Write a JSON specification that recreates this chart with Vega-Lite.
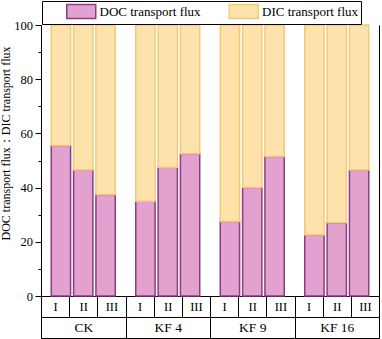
{
  "$schema": "https://vega.github.io/schema/vega-lite/v6.json",
  "width": 338,
  "height": 271,
  "autosize": {"type": "none"},
  "padding": {"left": 41, "top": 25, "right": 3, "bottom": 43},
  "background": "white",
  "config": {
    "font": "Liberation Serif",
    "view": {"stroke": null},
    "axis": {"labelFont": "Liberation Serif", "titleFont": "Liberation Serif", "labelColor": "black", "titleColor": "black", "domainColor": "black", "tickColor": "black", "grid": false, "titleFontWeight": "normal", "domainWidth": 1, "tickWidth": 1},
    "legend": {"labelFont": "Liberation Serif", "labelColor": "black"}
  },
  "data": {"values": [
    {"group": "CK", "sample": "I", "type": "DOC transport flux", "value": 55.5},
    {"group": "CK", "sample": "I", "type": "DIC transport flux", "value": 44.5},
    {"group": "CK", "sample": "II", "type": "DOC transport flux", "value": 46.5},
    {"group": "CK", "sample": "II", "type": "DIC transport flux", "value": 53.5},
    {"group": "CK", "sample": "III", "type": "DOC transport flux", "value": 37.5},
    {"group": "CK", "sample": "III", "type": "DIC transport flux", "value": 62.5},
    {"group": "KF 4", "sample": "I", "type": "DOC transport flux", "value": 35},
    {"group": "KF 4", "sample": "I", "type": "DIC transport flux", "value": 65},
    {"group": "KF 4", "sample": "II", "type": "DOC transport flux", "value": 47.5},
    {"group": "KF 4", "sample": "II", "type": "DIC transport flux", "value": 52.5},
    {"group": "KF 4", "sample": "III", "type": "DOC transport flux", "value": 52.5},
    {"group": "KF 4", "sample": "III", "type": "DIC transport flux", "value": 47.5},
    {"group": "KF 9", "sample": "I", "type": "DOC transport flux", "value": 27.5},
    {"group": "KF 9", "sample": "I", "type": "DIC transport flux", "value": 72.5},
    {"group": "KF 9", "sample": "II", "type": "DOC transport flux", "value": 40},
    {"group": "KF 9", "sample": "II", "type": "DIC transport flux", "value": 60},
    {"group": "KF 9", "sample": "III", "type": "DOC transport flux", "value": 51.5},
    {"group": "KF 9", "sample": "III", "type": "DIC transport flux", "value": 48.5},
    {"group": "KF 16", "sample": "I", "type": "DOC transport flux", "value": 22.5},
    {"group": "KF 16", "sample": "I", "type": "DIC transport flux", "value": 77.5},
    {"group": "KF 16", "sample": "II", "type": "DOC transport flux", "value": 27},
    {"group": "KF 16", "sample": "II", "type": "DIC transport flux", "value": 73},
    {"group": "KF 16", "sample": "III", "type": "DOC transport flux", "value": 46.5},
    {"group": "KF 16", "sample": "III", "type": "DIC transport flux", "value": 53.5}
  ]},
  "resolve": {"scale": {"x": "independent"}, "axis": {"x": "independent", "y": "independent"}},
  "layer": [
    {
      "mark": {"type": "bar", "strokeWidth": 1.5},
      "encoding": {
        "x": {"field": "group", "type": "nominal", "sort": ["CK", "KF 4", "KF 9", "KF 16"],
              "scale": {"paddingInner": 0, "paddingOuter": 0},
              "axis": {"orient": "bottom", "offset": 42, "labels": false, "ticks": false, "title": null}},
        "xOffset": {"field": "sample", "type": "nominal", "sort": ["I", "II", "III"],
                    "scale": {"paddingInner": 0.135, "paddingOuter": 0.46}},
        "y": {"field": "value", "type": "quantitative", "stack": "zero",
              "scale": {"domain": [0, 100]},
              "axis": {"orient": "left", "values": [0, 10, 20, 30, 40, 50, 60, 70, 80, 90, 100],
                       "labelExpr": "datum.value % 20 === 0 ? datum.label : ''",
                       "tickSize": {"condition": {"test": "datum.value % 20 === 0", "value": 6}, "value": 3},
                       "labelPadding": 2.5, "labelFontSize": 12.5,
                       "title": "DOC transport flux：DIC transport flux", "titleFontSize": 12, "titlePadding": 1, "titleY": 118}},
        "color": {"field": "type", "type": "nominal",
                  "scale": {"domain": ["DOC transport flux", "DIC transport flux"], "range": ["#e3a1cf", "#fde2ab"]},
                  "legend": {"orient": "none", "legendX": 1, "legendY": -24, "direction": "horizontal", "title": null,
                             "symbolType": "M-2,-0.96H2V0.96H-2Z", "symbolSize": 210, "symbolStrokeWidth": 1.5,
                             "labelFontSize": 13, "strokeColor": "black", "padding": 2.5,
                             "symbolOffset": 28.75, "labelOffset": 10.25, "columnPadding": 5.5,
                             "labelExpr": "datum.label === 'DIC transport flux' ? datum.label + '\u00a0\u00a0\u00a0\u00a0\u00a0\u00a0' : datum.label"}},
        "stroke": {"field": "type", "type": "nominal",
                   "scale": {"domain": ["DOC transport flux", "DIC transport flux"], "range": ["#8c3c82", "#f5c878"]},
                   "legend": {"orient": "none", "legendX": 1, "legendY": -24, "direction": "horizontal", "title": null,
                             "symbolType": "M-2,-0.96H2V0.96H-2Z", "symbolSize": 210, "symbolStrokeWidth": 1.5,
                             "labelFontSize": 13, "strokeColor": "black", "padding": 2.5,
                             "symbolOffset": 28.75, "labelOffset": 10.25, "columnPadding": 5.5,
                             "labelExpr": "datum.label === 'DIC transport flux' ? datum.label + '\u00a0\u00a0\u00a0\u00a0\u00a0\u00a0' : datum.label"}},
        "order": {"field": "type", "sort": "descending"}
      }
    },
    {
      "transform": [{"calculate": "datum.group + '|' + datum.sample", "as": "cell"}],
      "mark": {"type": "point", "opacity": 0},
      "encoding": {
        "x": {"field": "cell", "type": "nominal",
              "sort": ["CK|I", "CK|II", "CK|III", "KF 4|I", "KF 4|II", "KF 4|III", "KF 9|I", "KF 9|II", "KF 9|III", "KF 16|I", "KF 16|II", "KF 16|III"],
              "scale": {"type": "band", "paddingInner": 0, "paddingOuter": 0},
              "axis": {"orient": "bottom", "offset": 0, "title": null, "tickBand": "extent", "tickSize": 21,
                       "labelExpr": "split(datum.label, '|')[1]", "labelBaseline": "middle", "labelPadding": -10.5,
                       "labelFontSize": 12.5, "labelOverlap": false, "labelAngle": 0}},
        "y": {"field": "value", "type": "quantitative", "scale": {"domain": [0, 100]},
              "axis": {"orient": "right", "ticks": false, "labels": false, "title": null}}
      }
    },
    {
      "mark": {"type": "point", "opacity": 0},
      "encoding": {
        "x": {"field": "group", "type": "nominal", "sort": ["CK", "KF 4", "KF 9", "KF 16"],
              "scale": {"type": "band", "paddingInner": 0, "paddingOuter": 0},
              "axis": {"orient": "bottom", "offset": 21, "title": null, "tickBand": "extent", "tickSize": 21,
                       "labelBaseline": "middle", "labelPadding": -10.5, "labelFontSize": 13.5,
                       "labelOverlap": false, "labelAngle": 0}}
      }
    }
  ]
}
